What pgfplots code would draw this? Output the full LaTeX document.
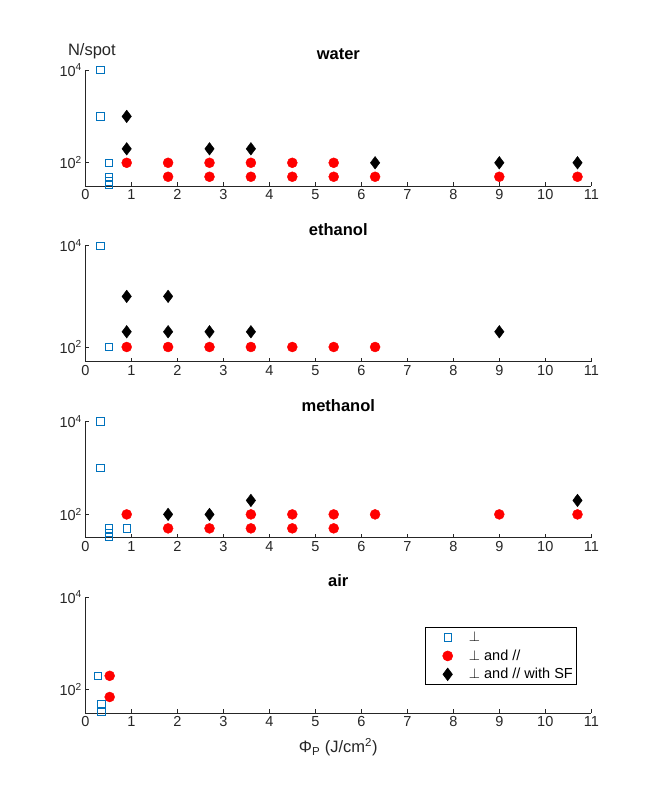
\documentclass[border=0pt]{standalone}
\usepackage{pgfplots}
\pgfplotsset{compat=1.18}
\usepackage{fontspec}
\setmainfont{Liberation Sans}
\definecolor{mblue}{rgb}{0,0.447,0.741}
\definecolor{axgray}{rgb}{0.15,0.15,0.15}
\pgfplotsset{
  every axis/.append style={
    scale only axis, width=506bp, height=116bp,
    axis lines=left, axis line style={-, axgray, line width=0.6bp},
    xmin=0, xmax=11, xtick={0,1,2,3,4,5,6,7,8,9,10,11},
    ytick={100,10000}, yticklabels={10\textsuperscript{2},10\textsuperscript{4}},
    tick style={axgray, line width=0.6bp},
    major tick length=4bp,
    tick align=inside,
    ticklabel style={font=\fontsize{14.5bp}{17bp}\selectfont, text=axgray},
    clip=false,
  },
  blueSq/.style={only marks, mark=square, mark size=3.7bp, color=mblue, mark options={line width=0.9bp}},
  redDot/.style={only marks, mark=*, mark size=5bp, color=red, mark options={draw=red, fill=red}},
  blackDia/.style={only marks, mark=diamond*, mark size=6.3bp, color=black, mark options={draw=black, fill=black}},
}
\newcommand{\paneltitle}[1]{\node[anchor=base, yshift=10bp, font=\bfseries\fontsize{16.5bp}{19bp}\selectfont] at (rel axis cs:0.5,1) {#1};}
\begin{document}
\begin{tikzpicture}
\useasboundingbox (0,0) rectangle (654bp,802bp);
% ---------------- water
\begin{semilogyaxis}[at={(85.3bp,616bp)}, anchor=south west, ymin=31.62, ymax=10000,
  /pgf/number format/assume math mode=true]
\addplot[blueSq] coordinates {(0.33,10000) (0.33,1000) (0.52,100) (0.52,50) (0.52,40) (0.52,33)};
\addplot[redDot] coordinates {(0.9,100) (1.8,100) (2.7,100) (3.6,100) (4.5,100) (5.4,100)
  (1.8,50) (2.7,50) (3.6,50) (4.5,50) (5.4,50) (6.3,50) (9,50) (10.7,50)};
\addplot[blackDia] coordinates {(0.9,1000) (0.9,200) (2.7,200) (3.6,200) (6.3,100) (9,100) (10.7,100)};
\paneltitle{water}
\node[anchor=base, yshift=14.7bp, font=\fontsize{16.5bp}{19bp}\selectfont, text=axgray] at (rel axis cs:0.013,1) {N/spot};
\end{semilogyaxis}
% ---------------- ethanol
\begin{semilogyaxis}[at={(85.3bp,440.2bp)}, anchor=south west, ymin=51, ymax=10000,
  /pgf/number format/assume math mode=true]
\addplot[blueSq] coordinates {(0.33,10000) (0.52,100)};
\addplot[redDot] coordinates {(0.9,100) (1.8,100) (2.7,100) (3.6,100) (4.5,100) (5.4,100) (6.3,100)};
\addplot[blackDia] coordinates {(0.9,1000) (1.8,1000) (0.9,200) (1.8,200) (2.7,200) (3.6,200) (9,200)};
\paneltitle{ethanol}
\end{semilogyaxis}
% ---------------- methanol
\begin{semilogyaxis}[at={(85.3bp,264.4bp)}, anchor=south west, ymin=31.62, ymax=10000,
  /pgf/number format/assume math mode=true]
\addplot[blueSq] coordinates {(0.33,10000) (0.33,1000) (0.52,50) (0.52,40) (0.52,33) (0.9,50)};
\addplot[redDot] coordinates {(0.9,100) (3.6,100) (4.5,100) (5.4,100) (6.3,100) (9,100) (10.7,100)
  (1.8,50) (2.7,50) (3.6,50) (4.5,50) (5.4,50)};
\addplot[blackDia] coordinates {(1.8,100) (2.7,100) (3.6,200) (10.7,200)};
\paneltitle{methanol}
\end{semilogyaxis}
% ---------------- air
\begin{semilogyaxis}[at={(85.3bp,89bp)}, anchor=south west, ymin=31.62, ymax=10000,
  /pgf/number format/assume math mode=true,
  legend cell align=left,
  legend style={at={(0.97,0.741)}, anchor=north east, draw=black, line width=0.6bp,
    font=\fontsize{14.5bp}{16bp}\selectfont, inner xsep=1bp, inner ysep=1bp, row sep=0bp},
  legend image code/.code={\path[draw=none, fill=none] (-21.7bp,-9.2bp) rectangle (19.3bp,9.2bp); \draw[#1] plot coordinates {(0bp,0bp)};},
]
\addplot[blueSq] coordinates {(0.27,200) (0.35,50) (0.35,33)};
\addlegendentry{$\perp$}
\addplot[redDot] coordinates {(0.53,200) (0.53,70)};
\addlegendentry{$\perp$ and //}
\addlegendimage{blackDia}
\addlegendentry{$\perp$ and // with SF}
\paneltitle{air}
\node[anchor=base, yshift=-39.5bp, font=\fontsize{16.5bp}{19bp}\selectfont, text=axgray] at (rel axis cs:0.5,0) {Φ\textsubscript{P} (J/cm\textsuperscript{2})};
\end{semilogyaxis}
\end{tikzpicture}
\end{document}
